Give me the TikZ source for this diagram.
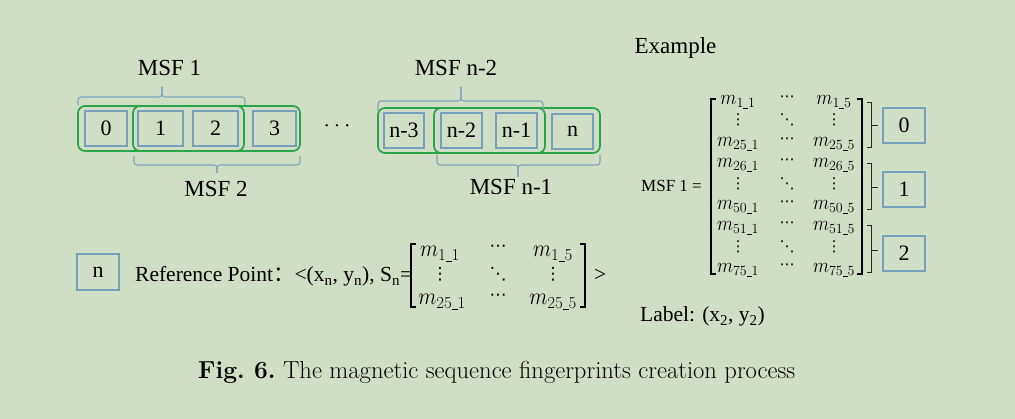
\documentclass[tikz,border=0pt]{standalone}
\usepackage{fix-cm}
\usepackage{amsmath}
\usepackage{graphicx}
\usepackage{fontspec}
\newfontfamily\tnr{Liberation Serif}
\newfontfamily\cjk{Noto Sans CJK SC}
\newfontfamily\djv{DejaVu Sans}
\definecolor{bg}{RGB}{207,222,196}
\definecolor{boxblue}{RGB}{118,160,186}
\definecolor{brblue}{RGB}{128,166,188}
\definecolor{grn}{RGB}{40,165,72}
\newcommand\usc{\rule[-0.06em]{0.24em}{0.055em}}
\newcommand\mentry[2]{${\scalebox{0.94}[1.05]{$m$}}_{\mathrm{#1}\usc\mathrm{#2}}$}
\newcommand\mentryb[2]{${\scalebox{0.88}[1]{$m$}}_{\mathrm{#1}\usc\mathrm{#2}}$}
\tikzset{
  cell/.style={draw=boxblue, line width=1.1pt, inner sep=0pt, minimum height=35pt, font=\tnr\fontsize{22}{26}\selectfont},
  grp/.style={draw=grn, line width=1.7pt, rounded corners=7pt},
  brace/.style={draw=brblue, line width=1.1pt, rounded corners=3pt},
  title/.style={inner sep=0pt, font=\tnr\fontsize{23}{27}\selectfont},
  body/.style={inner sep=0pt, font=\tnr\fontsize{21.5}{26}\selectfont},
  mr/.style={inner sep=0pt, font=\fontsize{20}{24}\selectfont, anchor=base},
  mb/.style={inner sep=0pt, font=\fontsize{24}{28}\selectfont, anchor=base},
  dr/.style={inner sep=0pt, font=\djv\fontsize{15}{18}\selectfont},
  db/.style={inner sep=0pt, font=\djv\fontsize{17}{20}\selectfont},
  brk/.style={draw=black, line width=1.6pt},
  tick/.style={draw=black!85, line width=0.9pt},
}
\begin{document}
\begin{tikzpicture}[x=1pt,y=-1pt]
\fill[bg] (0,0) rectangle (1015,419);
\useasboundingbox (0,0) rectangle (1015,419);

% ---- top left sequence
\node[cell, minimum width=42pt] (c0) at (106,128.5) {0};
\node[cell, minimum width=45pt] (c1) at (160.5,128.5) {1};
\node[cell, minimum width=45pt] (c2) at (215.5,128.5) {2};
\node[cell, minimum width=43pt] (c3) at (274.5,128.5) {3};
\draw[grp] (78,106) rectangle (244,151);
\draw[grp] (133,106) rectangle (300,151);
\draw[brace] (78,105) -- (78,97) -- (162,97) -- (162,87);
\draw[brace] (245,105) -- (245,97) -- (162,97) -- (162,87);
\draw[brace] (134,156) -- (134,165) -- (217,165) -- (217,173);
\draw[brace] (300,156) -- (300,165) -- (217,165) -- (217,173);
\node[title] (msf1) at (169.5,68) {MSF 1};
\node[title] (msf2) at (216,189.5) {MSF 2};
\node[inner sep=0pt, font=\fontsize{23}{27}\selectfont] (dots) at (339,126) {$\cdots$};

% ---- top right sequence
\node[cell, minimum width=40pt] (cn3) at (404,130.5) {n-3};
\node[cell, minimum width=41pt] (cn2) at (461.5,130.5) {n-2};
\node[cell, minimum width=41pt] (cn1) at (516.5,130.5) {n-1};
\node[cell, minimum width=41pt] (cn) at (572.5,131.5) {n};
\draw[grp] (378,108) rectangle (545,153);
\draw[grp] (434,108) rectangle (600,153);
\draw[brace] (378,111) -- (378,101) -- (461,101) -- (461,87);
\draw[brace] (543,111) -- (543,101) -- (461,101) -- (461,87);
\draw[brace] (437,155) -- (437,165) -- (518,165) -- (518,177);
\draw[brace] (600,155) -- (600,165) -- (518,165) -- (518,177);
\node[title] (msfn2) at (456,68.5) {MSF n-2};
\node[title] (msfn1) at (511,187.5) {MSF n-1};

% ---- example
\node[title, anchor=base] (ex) at (675.5,54) {Example};
\node[inner sep=0pt, anchor=base, font=\tnr\fontsize{17}{20}\selectfont] (msfeq) at (671.5,192) {MSF 1 =};
\draw[brk] (716,99) -- (711,99) -- (711,274) -- (716,274);
\draw[brk] (857,99) -- (862,99) -- (862,274) -- (857,274);
\foreach \n/\y in {1/105, 25/147, 26/168, 50/210, 51/231, 75/273} {
  \node[mr] (ra\n) at (738,\y) {\mentry{\n}{1}};
  \node[dr] (rb\n) at (787,\y-6) {⋯};
  \node[mr] (rc\n) at (834,\y) {\mentry{\n}{5}};
}
\foreach \k/\y in {0/120, 1/184, 2/247} {
  \node[dr] (va\k) at (738,\y) {⋮};
  \node[dr] (vb\k) at (787,\y) {⋱};
  \node[dr] (vc\k) at (834,\y) {⋮};
}
\foreach \k/\ya/\yb/\yt in {0/102/147/125, 1/163/209/187, 2/225/272/250} {
  \draw[tick] (867,\ya) -- (871,\ya) -- (871,\yb) -- (867,\yb);
  \draw[tick] (871,\yt) -- (878,\yt);
}
\node[cell, minimum width=42pt] (s0) at (904,125.5) {0};
\node[cell, minimum width=42pt] (s1) at (904,189.5) {1};
\node[cell, minimum width=42pt] (s2) at (904,253.5) {2};
\node[body, anchor=base west] (lab) at (640,322) {Label: (x\textsubscript{2}, y\textsubscript{2})};

% ---- reference point
\node[cell, minimum width=42pt, minimum height=36pt] (rn) at (98,272) {n};
\node[body, anchor=base west] (ref) at (135,282) {Reference Point{\cjk ：}<(x\textsubscript{n}, y\textsubscript{n}), S\textsubscript{n}=};
\draw[brk] (416,244) -- (411,244) -- (411,307) -- (416,307);
\draw[brk] (580,244) -- (585,244) -- (585,307) -- (580,307);
\node[mb] (ba1) at (440,257) {\mentryb{1}{1}};
\node[db] (bb1) at (498,248) {⋯};
\node[mb] (bc1) at (553,257) {\mentryb{1}{5}};
\node[db] (ba2) at (440,274) {⋮};
\node[db] (bb2) at (498,274) {⋱};
\node[db] (bc2) at (553,274) {⋮};
\node[mb] (ba3) at (442,305) {\mentryb{25}{1}};
\node[db] (bb3) at (498,297) {⋯};
\node[mb] (bc3) at (553,305) {\mentryb{25}{5}};
\node[body, anchor=base west] (gt) at (594,282) {>};

% ---- caption
\node[inner sep=0pt, anchor=base west, font=\fontsize{24.6}{29}\selectfont] (cap) at (198,379) {\textbf{Fig.\ 6.}\ The magnetic sequence fingerprints creation process};
\end{tikzpicture}
\end{document}
